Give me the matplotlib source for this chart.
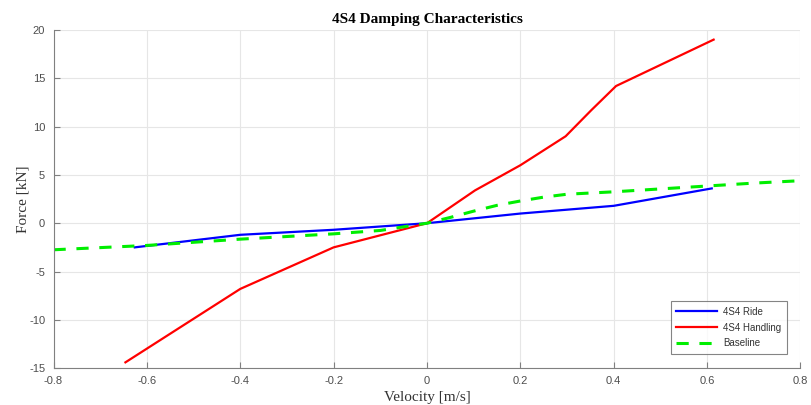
import matplotlib
matplotlib.use("Agg")
import matplotlib.pyplot as plt

plt.rcParams["axes.unicode_minus"] = False

# damper force-velocity curves
ride_v = [-0.626, -0.4, -0.2, 0.0, 0.2, 0.4, 0.61]
ride_f = [-2.5, -1.2, -0.68, 0.0, 1.0, 1.8, 3.6]

handling_v = [-0.646, -0.4, -0.2, 0.0, 0.103, 0.2, 0.297, 0.352, 0.405, 0.614]
handling_f = [-14.4, -6.8, -2.5, 0.0, 3.4, 6.0, 9.0, 11.7, 14.2, 19.0]

baseline_v = [-0.8, -0.6, -0.4, -0.2, -0.1, 0.0, 0.05, 0.1, 0.15, 0.2, 0.25,
              0.3, 0.4, 0.5, 0.6, 0.7, 0.8]
baseline_f = [-2.75, -2.3, -1.65, -1.1, -0.75, 0.0, 0.6, 1.25, 1.85, 2.3, 2.7,
              3.0, 3.25, 3.55, 3.85, 4.15, 4.4]

x_ticks = [-0.8, -0.6, -0.4, -0.2, 0, 0.2, 0.4, 0.6, 0.8]
y_ticks = [-15, -10, -5, 0, 5, 10, 15, 20]

fig = plt.figure(figsize=(8.11, 4.05), dpi=100)
ax = fig.add_axes([0.066, 0.091, 0.921, 0.835])

ax.plot(ride_v, ride_f, color="#0000ff", lw=1.6, label="4S4 Ride")
ax.plot(handling_v, handling_f, color="#ff0000", lw=1.6, label="4S4 Handling")
ax.plot(baseline_v, baseline_f, color="#00ee00", lw=2.2, ls=(0, (4, 3.5)),
        label="Baseline")

ax.set_xlim(-0.8, 0.8)
ax.set_ylim(-15, 20)
ax.set_xticks(x_ticks)
ax.set_xticklabels([f"{t:g}" for t in x_ticks])
ax.set_yticks(y_ticks)
ax.grid(True, color="#e6e6e6", lw=0.8)
ax.set_axisbelow(True)

for side in ("top", "right"):
    ax.spines[side].set_visible(False)
for side in ("left", "bottom"):
    ax.spines[side].set_color("#808080")
ax.tick_params(direction="in", length=4, color="#808080", labelcolor="#4d4d4d",
               labelsize=8)
ax.tick_params(axis="x", pad=6)
ax.tick_params(axis="y", pad=6)
for lbl in ax.get_xticklabels() + ax.get_yticklabels():
    lbl.set_fontfamily("Liberation Sans")

ax.set_title("4S4 Damping Characteristics", fontfamily="Liberation Serif",
             fontweight="bold", fontsize=11, pad=5)
ax.set_xlabel("Velocity [m/s]", fontfamily="Liberation Serif", fontsize=11,
              color="#333333", labelpad=3)
ax.set_ylabel("Force [kN]", fontfamily="Liberation Serif", fontsize=11,
              color="#333333", labelpad=0)

leg = ax.legend(loc="lower right", frameon=True, fancybox=False,
                handlelength=4.2, handletextpad=0.6, labelspacing=0.6,
                borderpad=0.55, bbox_to_anchor=(0.988, 0.028),
                prop={"family": "Liberation Sans", "size": 7})
leg.get_frame().set_edgecolor("#666666")
leg.get_frame().set_linewidth(0.8)
for t in leg.get_texts():
    t.set_color("#333333")

fig.savefig("out.png", dpi=100)
